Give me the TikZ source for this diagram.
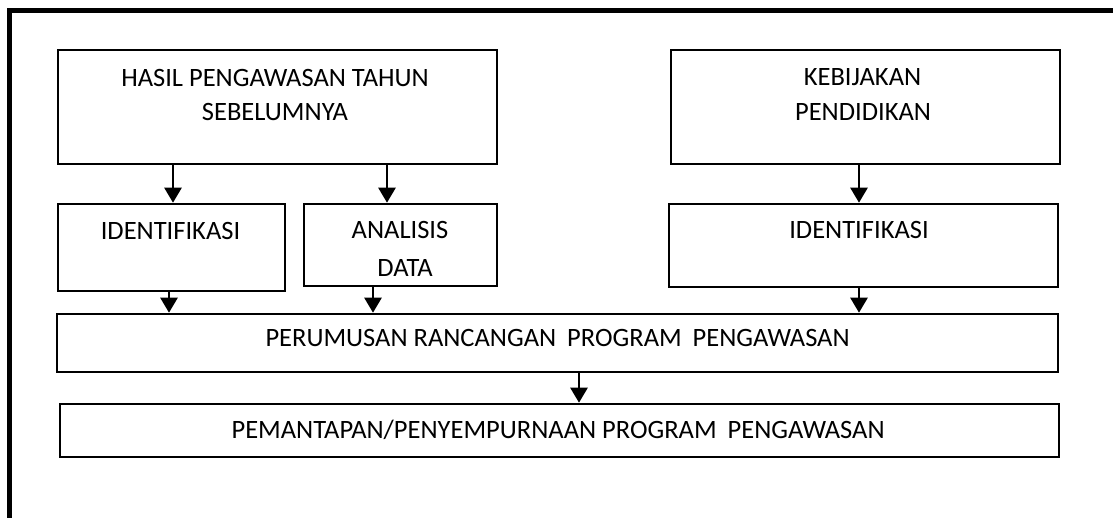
\documentclass[tikz,border=0pt]{standalone}
\usepackage{fontspec}
\setmainfont{Carlito}
\usetikzlibrary{arrows.meta}
\begin{document}
\begin{tikzpicture}[x=1pt,y=-1pt,
  box/.style={draw, line width=2.6pt, inner sep=0pt},
  lbl/.style={font=\fontsize{26.5}{30}\selectfont, inner sep=0pt, anchor=base},
  arr/.style={line width=2.6pt, -{Triangle[width=17pt,length=15pt]}},
  frame/.style={line width=5pt}]
\useasboundingbox (0,0) rectangle (1113,517);
% outer frame (cut by the page edges)
\draw[frame] (9,600) -- (9,10.5) -- (1115,10.5) -- (1115,600);
% boxes
\node[box, minimum width=439pt, minimum height=114pt] (hasil) at (277.5,107) {};
\node[box, minimum width=389pt, minimum height=114pt] (kebijakan) at (865.5,107) {};
\node[box, minimum width=227pt, minimum height=87pt] (identA) at (171.5,247.5) {};
\node[box, minimum width=193pt, minimum height=82pt] (analisis) at (400.5,245) {};
\node[box, minimum width=389pt, minimum height=83pt] (identB) at (863.5,245.5) {};
\node[box, minimum width=1001pt, minimum height=58pt] (perumusan) at (557.5,343) {};
\node[box, minimum width=999pt, minimum height=53pt] (pemantapan) at (559.5,430.5) {};
% texts
\node[lbl] (hasilT1) at (275,86.5) {HASIL PENGAWASAN TAHUN};
\node[lbl] (hasilT2) at (275,120.5) {SEBELUMNYA};
\node[lbl] (kebT1) at (862.5,85.5) {KEBIJAKAN};
\node[lbl] (kebT2) at (863,120.5) {PENDIDIKAN};
\node[lbl] (identAT) at (170.5,239.5) {IDENTIFIKASI};
\node[lbl] (anT1) at (400,238.5) {ANALISIS};
\node[lbl] (anT2) at (405,276.5) {DATA};
\node[lbl] (identBT) at (859,238.5) {IDENTIFIKASI};
\node[lbl] (perT) at (557.5,346.5) {PERUMUSAN RANCANGAN\hspace{5pt} PROGRAM\hspace{5pt} PENGAWASAN};
\node[lbl] (pemT) at (558,438.5) {PEMANTAPAN/PENYEMPURNAAN PROGRAM\hspace{5pt} PENGAWASAN};
% arrow columns
\coordinate (c1) at (173,0);
\coordinate (c2) at (387,0);
\coordinate (c3) at (859,0);
\coordinate (c4) at (169,0);
\coordinate (c5) at (373,0);
\coordinate (c6) at (579,0);
% connectors
\draw[arr] (c1 |- hasil.south) -- (c1 |- identA.north);
\draw[arr] (c2 |- hasil.south) -- (c2 |- analisis.north);
\draw[arr] (c3 |- kebijakan.south) -- (c3 |- identB.north);
\draw[arr] (c4 |- identA.south) -- (c4 |- perumusan.north);
\draw[arr] (c5 |- analisis.south) -- (c5 |- perumusan.north);
\draw[arr] (c3 |- identB.south) -- (c3 |- perumusan.north);
\draw[arr] (c6 |- perumusan.south) -- (c6 |- pemantapan.north);
\end{tikzpicture}
\end{document}
